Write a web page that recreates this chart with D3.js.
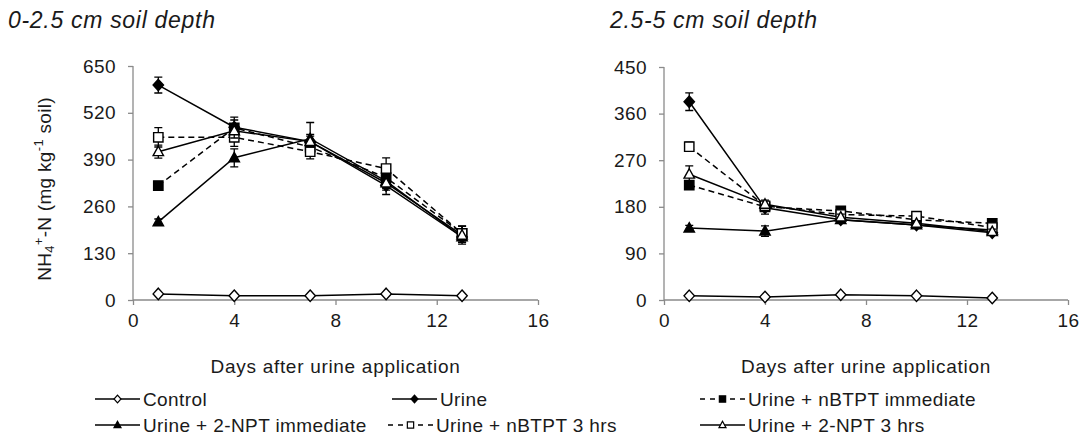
<!DOCTYPE html>
<html><head><meta charset="utf-8">
<script src="https://cdn.jsdelivr.net/npm/d3@7"></script>
<style>
body{margin:0;background:#fff;}
text{font-family:"Liberation Sans",Arial,sans-serif;fill:#1a1a1a;}
</style></head>
<body><svg id="c" width="1087" height="443"></svg>
<script>
const days = [1, 4, 7, 10, 13];
const seriesNames = ["Control","Urine","Urine + nBTPT immediate","Urine + 2-NPT immediate","Urine + nBTPT 3 hrs","Urine + 2-NPT 3 hrs"];
// 0-2.5 cm
const topControl = [17, 12, 12, 17, 12];
const topUrine = [597, 480, 440, 318, 175];
const topNbtptImm = [318, 478, 425, 340, 185];
const topNptImm = [217, 395, 448, 330, 175];
const topNbtpt3 = [452, 452, 412, 365, 185];
const topNpt3 = [412, 470, 440, 325, 180];
const topControlErr = [3, 2, 2, 3, 2];
const topUrineErr = [22, 20, 20, 25, 15];
const topNbtptImmErr = [6, 30, 20, 20, 20];
const topNptImmErr = [8, 25, 45, 20, 15];
const topNbtpt3Err = [27, 25, 20, 30, 20];
const topNpt3Err = [18, 20, 15, 20, 25];
// 2.5-5 cm
const subControl = [8, 6, 10, 8, 4];
const subUrine = [383, 178, 155, 145, 130];
const subNbtptImm = [222, 180, 172, 155, 148];
const subNptImm = [139, 133, 155, 145, 135];
const subNbtpt3 = [296, 182, 165, 162, 140];
const subNpt3 = [243, 185, 160, 148, 132];
const subControlErr = [2, 2, 2, 2, 2];
const subUrineErr = [17, 12, 6, 6, 5];
const subNbtptImmErr = [6, 8, 6, 5, 5];
const subNptImmErr = [5, 10, 5, 5, 5];
const subNbtpt3Err = [9, 8, 6, 5, 5];
const subNpt3Err = [16, 8, 6, 5, 5];
const xTicks = [0, 4, 8, 12, 16];
const topYTicks = [0, 130, 260, 390, 520, 650];
const subYTicks = [0, 90, 180, 270, 360, 450];

const styles = [
  {shape:"diamond", fill:"#fff", dash:null},
  {shape:"diamond", fill:"#000", dash:null},
  {shape:"square", fill:"#000", dash:"6,4"},
  {shape:"triangle", fill:"#000", dash:null},
  {shape:"square", fill:"#fff", dash:"6,4"},
  {shape:"triangle", fill:"#fff", dash:null}
];

function markerPath(shape, s){
  if(shape==="diamond") return `M0,${-s*1.1}L${s},0L0,${s*1.1}L${-s},0Z`;
  if(shape==="square") return `M${-s*0.9},${-s*0.9}H${s*0.9}V${s*0.9}H${-s*0.9}Z`;
  return `M0,${-s*1.05}L${s},${s*0.75}H${-s}Z`;
}

const svg = d3.select("#c");
const axisColor = "#8a8a8a";

function panel(cfg){
  const x = d3.scaleLinear().domain([0,16]).range(cfg.xr);
  const y = d3.scaleLinear().domain([0,cfg.ymax]).range([300, cfg.ytop]);
  const g = svg.append("g");
  const xa = g.append("g").attr("transform",`translate(0,${y(0)})`)
    .call(d3.axisBottom(x).tickValues(xTicks).tickSize(5).tickPadding(9).tickFormat(d3.format("d")));
  const ya = g.append("g").attr("transform",`translate(${x(0)},0)`)
    .call(d3.axisLeft(y).tickValues(cfg.yTicks).tickSize(5).tickPadding(12).tickFormat(d3.format("d")));
  [xa,ya].forEach(a=>{
    a.selectAll("path,line").attr("stroke",axisColor).attr("stroke-width",1.3);
    a.selectAll("text").attr("font-size",19).attr("letter-spacing",0.4).attr("fill","#1a1a1a").style("font-family","'Liberation Sans',Arial,sans-serif");
  });
  xa.select(".domain").attr("d",`M${x(0)},0H${x(16)}`);
  ya.select(".domain").attr("d",`M0,${y(cfg.ymax)}V${y(0)}`);
  g.append("text").attr("x",(x(0)+x(16))/2).attr("y",373).attr("text-anchor","middle")
    .attr("font-size",19).attr("letter-spacing",0.7).text("Days after urine application");
  g.append("text").attr("x",cfg.titleX).attr("y",28).attr("font-size",23).attr("letter-spacing",0.7).attr("font-style","italic")
    .text(cfg.title);
  const line = d3.line().x((d,i)=>x(days[i])).y(d=>y(d));
  cfg.data.forEach((vals,k)=>{
    const st = styles[k];
    g.append("path").attr("d",line(vals)).attr("fill","none").attr("stroke","#000")
      .attr("stroke-width",1.5).attr("stroke-dasharray",st.dash);
  });
  cfg.data.forEach((vals,k)=>{
    const st = styles[k], err = cfg.err[k];
    vals.forEach((v,i)=>{
      const cx = x(days[i]);
      const e = err[i];
      if(e>4){
        g.append("path").attr("d",`M${cx},${y(v-e)}V${y(v+e)}M${cx-4},${y(v-e)}H${cx+4}M${cx-4},${y(v+e)}H${cx+4}`)
          .attr("stroke","#000").attr("stroke-width",1.3).attr("fill","none");
      }
      g.append("path").attr("d",markerPath(st.shape,5.2)).attr("transform",`translate(${cx},${y(v)})`)
        .attr("fill",st.fill).attr("stroke","#000").attr("stroke-width",1.4);
    });
  });
}

panel({xr:[133,538], ymax:650, ytop:66, yTicks:topYTicks, title:"0-2.5 cm soil depth", titleX:8,
  data:[topControl,topUrine,topNbtptImm,topNptImm,topNbtpt3,topNpt3],
  err:[topControlErr,topUrineErr,topNbtptImmErr,topNptImmErr,topNbtpt3Err,topNpt3Err]});
panel({xr:[664,1068], ymax:450, ytop:67, yTicks:subYTicks, title:"2.5-5 cm soil depth", titleX:610,
  data:[subControl,subUrine,subNbtptImm,subNptImm,subNbtpt3,subNpt3],
  err:[subControlErr,subUrineErr,subNbtptImmErr,subNptImmErr,subNbtpt3Err,subNpt3Err]});

// y label
const yl = svg.append("text").attr("transform","translate(51,189) rotate(-90)").attr("text-anchor","middle").attr("font-size",19).attr("letter-spacing",0.3);
yl.append("tspan").text("NH");
yl.append("tspan").attr("font-size",13).attr("baseline-shift","-25%").text("4");
yl.append("tspan").attr("font-size",13).attr("baseline-shift","60%").text("+");
yl.append("tspan").text("-N (mg kg");
yl.append("tspan").attr("font-size",13).attr("baseline-shift","60%").text("-1");
yl.append("tspan").text(" soil)");

// legend
const legPos = [[95,399],[392,399],[700,399],[95,425],[388,425],[700,425]];
seriesNames.forEach((name,k)=>{
  const [lx,ly] = legPos[k], st = styles[k];
  const lg = svg.append("g");
  lg.append("line").attr("x1",lx).attr("x2",lx+45).attr("y1",ly).attr("y2",ly)
    .attr("stroke","#000").attr("stroke-width",1.5).attr("stroke-dasharray",st.dash? "5,5":null);
  lg.append("path").attr("d",markerPath(st.shape,3.5)).attr("transform",`translate(${lx+22.5},${ly})`)
    .attr("fill",st.fill).attr("stroke","#000").attr("stroke-width",1.2);
  lg.append("text").attr("x",lx+48).attr("y",ly+7).attr("font-size",19).attr("letter-spacing",0.4).text(name);
});
</script></body></html>
